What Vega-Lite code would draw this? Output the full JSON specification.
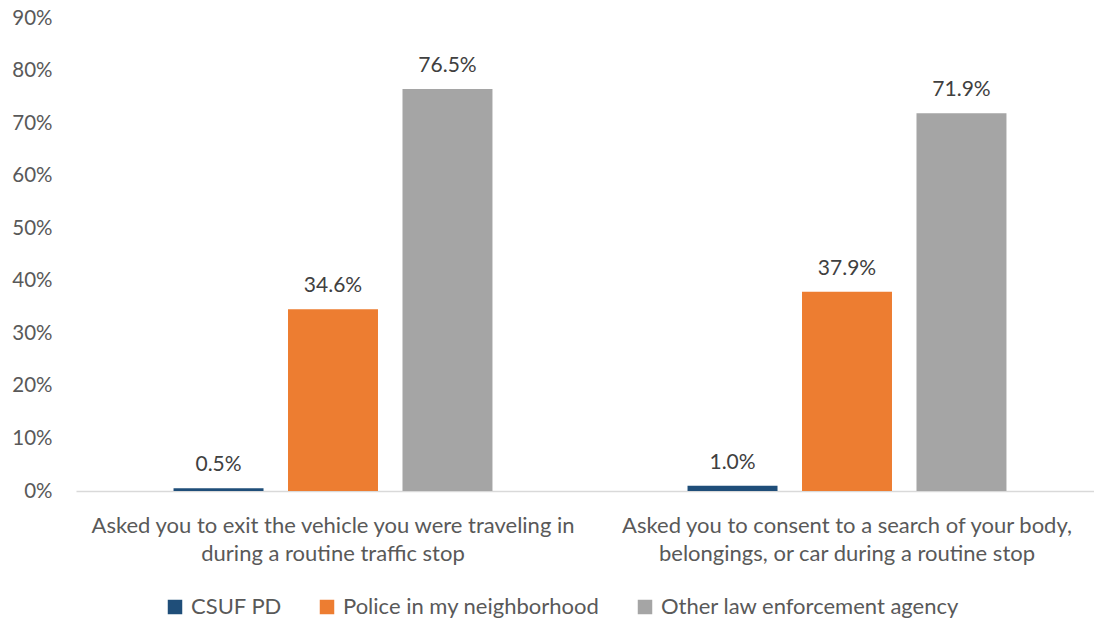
{
  "$schema": "https://vega.github.io/schema/vega-lite/v6.json",
  "width": 1018,
  "height": 473,
  "autosize": {"type": "none"},
  "padding": {"left": 75, "top": 18, "right": 1, "bottom": 130},
  "background": "white",
  "config": {
    "view": {"stroke": null},
    "font": "Lato"
  },
  "data": {
    "values": [
      {"item": "Asked you to exit the vehicle you were traveling in during a routine traffic stop", "agency": "CSUF PD", "value": 0.005},
      {"item": "Asked you to exit the vehicle you were traveling in during a routine traffic stop", "agency": "Police in my neighborhood", "value": 0.346},
      {"item": "Asked you to exit the vehicle you were traveling in during a routine traffic stop", "agency": "Other law enforcement agency", "value": 0.765},
      {"item": "Asked you to consent to a search of your body, belongings, or car during a routine stop", "agency": "CSUF PD", "value": 0.010},
      {"item": "Asked you to consent to a search of your body, belongings, or car during a routine stop", "agency": "Police in my neighborhood", "value": 0.379},
      {"item": "Asked you to consent to a search of your body, belongings, or car during a routine stop", "agency": "Other law enforcement agency", "value": 0.719}
    ]
  },
  "encoding": {
    "x": {
      "field": "item",
      "type": "nominal",
      "sort": null,
      "scale": {"paddingInner": 0, "paddingOuter": 0, "range": [1, 1029]},
      "axis": {
        "title": null,
        "labelAngle": 0,
        "domainColor": "#d9d9d9",
        "domainWidth": 1.5,
        "ticks": false,
        "labelFontSize": 22,
        "labelColor": "#595959",
        "labelPadding": 24,
        "labelLineHeight": 28,
        "labelBaseline": "top",
        "labelLimit": 0,
        "labelExpr": "datum.label == 'Asked you to exit the vehicle you were traveling in during a routine traffic stop' ? ['Asked you to exit the vehicle you were traveling in', 'during a routine traffic stop'] : ['Asked you to consent to a search of your body,', 'belongings, or car during a routine stop']"
      }
    },
    "xOffset": {
      "field": "agency",
      "type": "nominal",
      "sort": ["CSUF PD", "Police in my neighborhood", "Other law enforcement agency"],
      "scale": {"paddingInner": 0.214, "paddingOuter": 0.852}
    },
    "y": {
      "field": "value",
      "type": "quantitative",
      "scale": {"domain": [0, 0.9], "nice": false},
      "axis": {
        "title": null,
        "values": [0, 0.1, 0.2, 0.3, 0.4, 0.5, 0.6, 0.7, 0.8, 0.9],
        "format": ".0%",
        "grid": false,
        "domain": false,
        "ticks": false,
        "labelFontSize": 20.5,
        "labelColor": "#595959",
        "labelPadding": 23
      }
    }
  },
  "layer": [
    {
      "mark": {"type": "bar"},
      "encoding": {
        "color": {
          "field": "agency",
          "type": "nominal",
          "sort": ["CSUF PD", "Police in my neighborhood", "Other law enforcement agency"],
          "scale": {
            "domain": ["CSUF PD", "Police in my neighborhood", "Other law enforcement agency"],
            "range": ["#1F4E79", "#ED7D31", "#A5A5A5"]
          },
          "legend": {
            "title": null,
            "orient": "none",
            "direction": "horizontal",
            "legendX": 89,
            "legendY": 578,
            "symbolType": "square",
            "symbolSize": 210,
            "symbolStrokeWidth": 0,
            "symbolOpacity": 1,
            "labelFontSize": 22,
            "labelColor": "#595959",
            "labelOffset": 5,
            "labelLimit": 0,
            "columnPadding": 34
          }
        }
      }
    },
    {
      "mark": {"type": "text", "baseline": "alphabetic", "dy": -17, "fontSize": 21, "color": "#404040"},
      "encoding": {
        "text": {"field": "value", "type": "quantitative", "format": ".1%"}
      }
    }
  ]
}
